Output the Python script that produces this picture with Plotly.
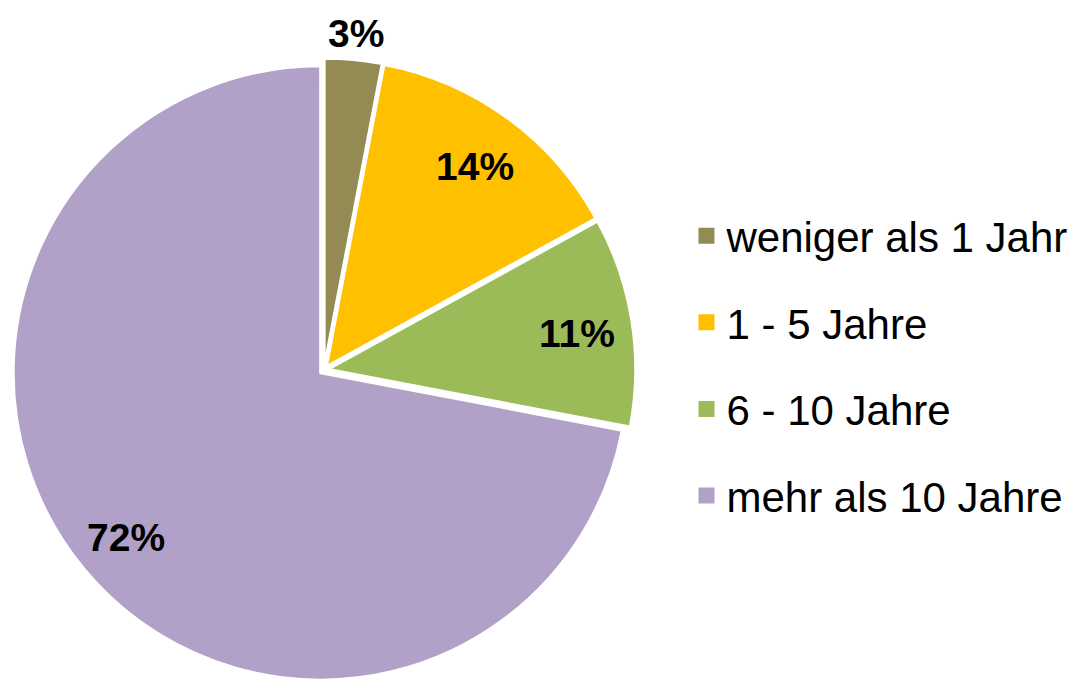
import math
import plotly.graph_objects as go

categories = ["weniger als 1 Jahr", "1 - 5 Jahre", "6 - 10 Jahre", "mehr als 10 Jahre"]
shares = [3, 14, 11, 72]
colors = ["#948A54", "#FFC000", "#9BBB59", "#B1A0C7"]
label_outside = [True, False, False, False]

FONT = "Liberation Sans, Arial, sans-serif"
W, H = 1077, 682
PULL = 0.015
DOM_X = [0.0115, 0.5901]
DOM_Y = [0.0006, 0.9144]

fig = go.Figure()
fig.add_trace(go.Pie(
    labels=categories,
    values=shares,
    sort=False,
    direction="clockwise",
    rotation=0,
    marker=dict(colors=colors, line=dict(color="white", width=2.5)),
    pull=[PULL] * len(shares),
    textinfo="none",
    showlegend=False,
    hoverinfo="label+percent",
    domain=dict(x=DOM_X, y=DOM_Y),
))

# data labels placed like Excel's: inside at ~0.82 R on the slice bisector, small slice outside end
cx = W * (DOM_X[0] + DOM_X[1]) / 2
cy = H * (DOM_Y[0] + DOM_Y[1]) / 2
radius = min(W * (DOM_X[1] - DOM_X[0]), H * (DOM_Y[1] - DOM_Y[0])) / (2 + 2 * PULL)
total = sum(shares)
cum = 0
for s, outside in zip(shares, label_outside):
    theta = 2 * math.pi * (cum + s / 2) / total
    cum += s
    dist = radius * (PULL + (1.10 if outside else 0.82))
    fig.add_annotation(
        x=(cx + dist * math.sin(theta)) / W,
        y=(cy + dist * math.cos(theta)) / H,
        xref="paper", yref="paper", xanchor="center", yanchor="middle",
        yshift=-4,
        text=f"{round(100 * s / total)}%", showarrow=False,
        font=dict(family=FONT, size=39, color="black", weight="bold"),
    )

# legend entries (one group per category so rows can be spaced like the original)
for cat, col in zip(categories, colors):
    fig.add_trace(go.Scatter(
        x=[None], y=[None], mode="markers", name=cat,
        marker=dict(symbol="square", size=16, color=col),
        legendgroup=cat, showlegend=True, hoverinfo="skip",
    ))

fig.update_layout(
    width=W, height=H,
    margin=dict(l=0, r=0, t=0, b=0, autoexpand=False),
    paper_bgcolor="white", plot_bgcolor="white",
    xaxis=dict(visible=False), yaxis=dict(visible=False),
    legend=dict(
        x=0.6374, y=0.4635, xanchor="left", yanchor="middle",
        traceorder="grouped", tracegroupgap=29,
        font=dict(family=FONT, size=42, color="black"),
        bgcolor="rgba(0,0,0,0)", borderwidth=0,
        itemclick=False, itemdoubleclick=False,
    ),
)

fig.write_html(
    "out.html",
    config={"displayModeBar": False},
    post_script="document.body.style.margin='0';",
)
